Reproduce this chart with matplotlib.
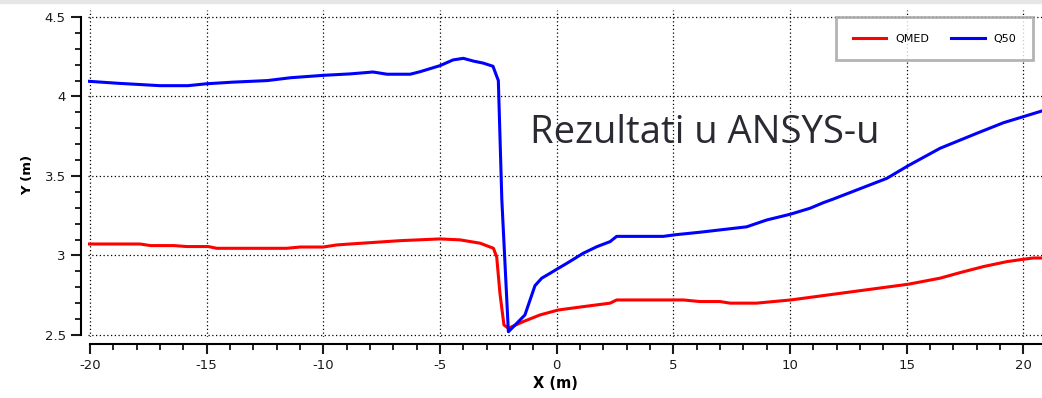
import matplotlib.pyplot as plt
from matplotlib.patches import Rectangle

plt.rcParams['axes.unicode_minus'] = False

# QMED (red) water surface profile
qmed_x = [-20.2, -17.86, -17.4, -16.4, -15.86, -14.93, -14.57, -11.57, -11.0, -10.0,
          -9.43, -8.86, -6.71, -5.0, -4.14, -3.28, -2.71, -2.57, -2.43, -2.26,
          -2.07, -1.43, -0.71, 0.07, 1.14, 2.29, 2.57, 5.43, 6.14, 7.0,
          7.43, 8.57, 9.29, 10.03, 11.86, 15.07, 16.43, 17.29, 18.29, 19.29,
          20.0, 20.43, 20.8]
qmed_y = [3.072, 3.072, 3.062, 3.062, 3.056, 3.056, 3.045, 3.045, 3.053, 3.053,
          3.066, 3.072, 3.093, 3.104, 3.098, 3.077, 3.045, 2.99, 2.76, 2.563,
          2.542, 2.584, 2.626, 2.657, 2.678, 2.70, 2.72, 2.72, 2.71, 2.71,
          2.70, 2.70, 2.71, 2.72, 2.756, 2.819, 2.857, 2.892, 2.93, 2.961,
          2.976, 2.984, 2.984]

# Q50 (blue) water surface profile
q50_x = [-20.2, -18.8, -17.0, -15.8, -15.0, -13.9, -12.4, -11.4, -10.0, -8.86,
         -7.87, -7.27, -6.28, -5.85, -5.0, -4.44, -4.0, -3.58, -3.15, -2.73,
         -2.5, -2.35, -2.07, -1.71, -1.36, -0.93, -0.64, -0.28, 0.07, 0.43,
         1.14, 1.72, 2.29, 2.57, 4.57, 5.07, 6.14, 8.14, 9.0, 10.03,
         10.86, 11.43, 11.86, 14.15, 15.07, 16.43, 18.0, 19.15, 20.0, 20.8]
q50_y = [4.097, 4.083, 4.068, 4.068, 4.08, 4.09, 4.10, 4.118, 4.133, 4.142,
         4.154, 4.14, 4.14, 4.156, 4.194, 4.23, 4.24, 4.223, 4.21, 4.19,
         4.10, 3.35, 2.52, 2.573, 2.626, 2.81, 2.857, 2.888, 2.919, 2.95,
         3.014, 3.055, 3.087, 3.12, 3.12, 3.13, 3.146, 3.18, 3.223, 3.26,
         3.297, 3.332, 3.355, 3.485, 3.565, 3.674, 3.768, 3.835, 3.873, 3.909]

W, H = 1042, 398
fig = plt.figure(figsize=(W / 100, H / 100), dpi=100)
ax = fig.add_axes([88 / W, 61 / H, 954 / W, 327 / H])

ax.plot(qmed_x, qmed_y, color='#ff0000', lw=2.2, label='QMED', zorder=3)
ax.plot(q50_x, q50_y, color='#0000ff', lw=2.2, label='Q50', zorder=3)

ax.set_xlim(-20.086, 20.8)
ax.set_ylim(2.487, 4.544)
ax.set_xticks(range(-20, 21, 5))
ax.set_xticks(range(-20, 21), minor=True)
ax.set_yticks([2.5, 3, 3.5, 4, 4.5])
ax.set_yticklabels(['2.5', '3', '3.5', '4', '4.5'])
ax.set_yticks([2.5 + 0.1 * i for i in range(21)], minor=True)

ax.grid(True, which='major', color='black', linestyle=(0, (1, 2)), linewidth=0.9)

for s in ['top', 'right']:
    ax.spines[s].set_visible(False)
ax.spines['left'].set_position(('outward', 5))
ax.spines['bottom'].set_position(('outward', 5))
ax.spines['left'].set_bounds(2.5, 4.5)
ax.spines['bottom'].set_bounds(-20, 20.8)
ax.spines['left'].set_linewidth(1.5)
ax.spines['bottom'].set_linewidth(1.5)
ax.tick_params(which='major', direction='out', length=7.5, width=1.5, labelsize=9.5,
               colors='#1a1a1a')
ax.tick_params(which='minor', direction='out', length=4, width=1.2)

fig.text(28 / W, 1 - 175 / H, 'Y (m)', rotation=90, ha='center', va='center',
         fontsize=9.5, fontweight='bold')
fig.text(555 / W, 1 - 384 / H, 'X (m)', ha='center', va='center',
         fontsize=10.5, fontweight='bold')

fig.text(530 / W, 1 - 143 / H, 'Rezultati u ANSYS-u', ha='left', va='baseline',
         fontsize=27.5, color='#2a2a33', family='Open Sans')

leg = ax.legend(loc='upper right', ncol=2, fontsize=8, frameon=True,
                fancybox=False, shadow=False, handlelength=3.0, columnspacing=2.0,
                borderpad=1.5, borderaxespad=0,
                bbox_to_anchor=(1033 / W, 1 - 17 / H),
                bbox_transform=fig.transFigure)
leg.get_frame().set_edgecolor('#a0a0a0')
leg.get_frame().set_linewidth(2)

fig.patches.append(Rectangle((0, 1 - 3 / H), 1, 3 / H, transform=fig.transFigure,
                             color='#e6e6e6', zorder=0))

fig.savefig('out.png', dpi=100)
